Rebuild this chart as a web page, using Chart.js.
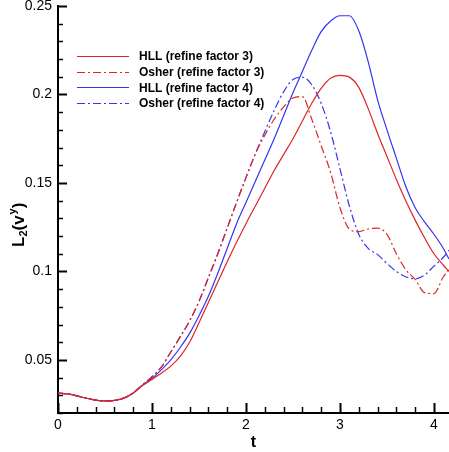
<!DOCTYPE html>
<html>
<head>
<meta charset="utf-8">
<script src="https://cdn.jsdelivr.net/npm/chart.js@4/dist/chart.umd.min.js"></script>
<style>
  html, body { margin: 0; padding: 0; background: #fff; }
  #wrap { width: 449px; height: 452px; }
</style>
</head>
<body>
<div id="wrap"><canvas id="l2-chart" width="449" height="452"></canvas></div>
<script>
// L2(v^y) error over time, HLL vs Osher, refine factor 3 and 4

const tValues = [0, 0.1, 0.2, 0.3, 0.4, 0.5, 0.6, 0.7, 0.8, 0.9,
  1.0, 1.1, 1.2, 1.3, 1.4, 1.5, 1.6, 1.7, 1.8, 1.9,
  2.0, 2.1, 2.2, 2.3, 2.4, 2.5, 2.6, 2.7, 2.8, 2.9,
  3.0, 3.1, 3.2, 3.3, 3.4, 3.5, 3.6, 3.7, 3.8, 3.9,
  4.0, 4.1, 4.16];

const hllFactor3 = [0.0312, 0.0308, 0.0297, 0.0284, 0.0273, 0.0268, 0.0271, 0.0284, 0.0312, 0.0355,
  0.0390, 0.0425, 0.0465, 0.0520, 0.0600, 0.0710, 0.0825, 0.0940, 0.1055, 0.1165,
  0.1270, 0.1370, 0.1470, 0.1570, 0.1660, 0.1750, 0.1850, 0.1950, 0.2035, 0.2092,
  0.2108, 0.2098, 0.2040, 0.1920, 0.1780, 0.1650, 0.1520, 0.1400, 0.1290, 0.1190,
  0.1100, 0.1035, 0.1000];

const osherFactor3 = [0.0312, 0.0308, 0.0297, 0.0284, 0.0273, 0.0268, 0.0271, 0.0284, 0.0314, 0.0360,
  0.0405, 0.0460, 0.0545, 0.0630, 0.0720, 0.0830, 0.0965, 0.1100, 0.1245, 0.1390,
  0.1530, 0.1665, 0.1770, 0.1860, 0.1930, 0.1980, 0.1988, 0.1860, 0.1710, 0.1560,
  0.1360, 0.1240, 0.1225, 0.1240, 0.1245, 0.1210, 0.1100, 0.1010, 0.0955, 0.0880,
  0.0875, 0.0970, 0.1010];

const hllFactor4 = [0.0312, 0.0308, 0.0297, 0.0284, 0.0273, 0.0268, 0.0271, 0.0284, 0.0313, 0.0358,
  0.0395, 0.0445, 0.0500, 0.0570, 0.0650, 0.0750, 0.0860, 0.0990, 0.1130, 0.1270,
  0.1390, 0.1510, 0.1630, 0.1750, 0.1880, 0.2010, 0.2130, 0.2250, 0.2355, 0.2415,
  0.2445, 0.2445, 0.2360, 0.2186, 0.1970, 0.1800, 0.1640, 0.1480, 0.1360, 0.1280,
  0.1210, 0.1130, 0.1070];

const osherFactor4 = [0.0312, 0.0308, 0.0297, 0.0284, 0.0273, 0.0268, 0.0271, 0.0284, 0.0314, 0.0360,
  0.0405, 0.0460, 0.0545, 0.0630, 0.0720, 0.0830, 0.0965, 0.1100, 0.1245, 0.1390,
  0.1530, 0.1665, 0.1790, 0.1910, 0.2015, 0.2085, 0.2098, 0.2055, 0.1950, 0.1790,
  0.1580, 0.1370, 0.1210, 0.1130, 0.1095, 0.1045, 0.1000, 0.0970, 0.0958, 0.0980,
  0.1030, 0.1080, 0.1120];

const seriesNames = ['HLL (refine factor 3)', 'Osher (refine factor 3)',
  'HLL (refine factor 4)', 'Osher (refine factor 4)'];

const xLabelValues = [0, 1, 2, 3, 4];
const yLabelValues = [0.05, 0.1, 0.15, 0.2, 0.25];

const RED = '#e02424';
const BLUE = '#3434f2';
const DASHDOT = [8, 3, 2, 3];

const near = (a, b) => Math.abs(a - b) < 1e-6;
const onStep = (v, step) => near(v / step, Math.round(v / step));
const labelFor = (list, v) => {
  const hit = list.find(l => near(l, v));
  return hit === undefined ? '' : String(hit);
};
const toPoints = arr => tValues.map((t, i) => ({ x: t, y: arr[i] }));

// tick marks pointing into the plot, long at labelled values
const inwardTicks = {
  id: 'inwardTicks',
  afterDraw(chart) {
    const { ctx, chartArea } = chart;
    const xs = chart.scales.x, ys = chart.scales.y;
    ctx.save();
    ctx.strokeStyle = '#000';
    xs.ticks.forEach(t => {
      if (!onStep(t.value, 0.2)) return;
      const major = labelFor(xLabelValues, t.value) !== '';
      const px = Math.round(xs.getPixelForValue(t.value)) + 0.5;
      ctx.lineWidth = major ? 2 : 1.5;
      ctx.beginPath();
      ctx.moveTo(px, chartArea.bottom);
      ctx.lineTo(px, chartArea.bottom - (major ? 10 : 6));
      ctx.stroke();
    });
    ys.ticks.forEach(t => {
      if (!onStep(t.value, 0.01)) return;
      const major = labelFor(yLabelValues, t.value) !== '';
      const py = Math.round(ys.getPixelForValue(t.value)) + 0.5;
      ctx.lineWidth = major ? 2 : 1.5;
      ctx.beginPath();
      ctx.moveTo(chartArea.left, py);
      ctx.lineTo(chartArea.left + (major ? 9 : 5), py);
      ctx.stroke();
    });
    ctx.restore();
  }
};

// y title with sub/superscript: L_2(v^y)
const yTitle = {
  id: 'yTitle',
  afterDraw(chart) {
    const ctx = chart.ctx;
    ctx.save();
    ctx.translate(24, 247);
    ctx.rotate(-Math.PI / 2);
    ctx.fillStyle = '#000';
    ctx.textBaseline = 'alphabetic';
    const big = 'bold 17px "Liberation Sans", Arial, sans-serif';
    const small = 'bold 11px "Liberation Sans", Arial, sans-serif';
    let x = 0;
    const put = (txt, font, dy) => {
      ctx.font = font;
      ctx.fillText(txt, x, dy);
      x += ctx.measureText(txt).width;
    };
    put('L', big, 0);
    put('2', small, 3);
    put('(v', big, 0);
    x += 1;
    put('y', small, -8);
    put(')', big, 0);
    ctx.restore();
  }
};

// legend box in upper left of the plot
const insideLegend = {
  id: 'insideLegend',
  afterDraw(chart) {
    const ctx = chart.ctx;
    ctx.save();
    ctx.font = 'bold 12px "Liberation Sans", Arial, sans-serif';
    ctx.textBaseline = 'middle';
    chart.data.datasets.forEach((ds, i) => {
      const y = 56 + i * 15.7;
      ctx.strokeStyle = ds.borderColor;
      ctx.lineWidth = ds.borderWidth;
      ctx.setLineDash(ds.borderDash || []);
      ctx.beginPath();
      ctx.moveTo(77, Math.round(y) + 0.5);
      ctx.lineTo(129, Math.round(y) + 0.5);
      ctx.stroke();
      ctx.setLineDash([]);
      ctx.fillStyle = '#000';
      ctx.fillText(ds.label, 139, y + 1);
    });
    ctx.restore();
  }
};

const whiteBg = {
  id: 'whiteBg',
  beforeDraw(chart) {
    const ctx = chart.ctx;
    ctx.save();
    ctx.fillStyle = '#fff';
    ctx.fillRect(0, 0, chart.width, chart.height);
    ctx.restore();
  }
};

const line = (label, arr, color, dash) => ({
  label,
  data: toPoints(arr),
  borderColor: color,
  borderWidth: 1.2,
  borderDash: dash,
  pointRadius: 0,
  fill: false,
  cubicInterpolationMode: 'monotone'
});

const tickFont = { family: '"Liberation Sans", Arial, sans-serif', size: 14 };

new Chart(document.getElementById('l2-chart'), {
  type: 'line',
  data: {
    datasets: [
      line(seriesNames[0], hllFactor3, RED, []),
      line(seriesNames[1], osherFactor3, RED, DASHDOT),
      line(seriesNames[2], hllFactor4, BLUE, []),
      line(seriesNames[3], osherFactor4, BLUE, DASHDOT)
    ]
  },
  options: {
    responsive: false,
    animation: false,
    layout: { padding: { top: 6, right: 0, left: 0, bottom: 0 } },
    plugins: {
      legend: { display: false },
      tooltip: { enabled: false }
    },
    scales: {
      x: {
        type: 'linear',
        min: 0,
        max: 4.16,
        afterFit: s => { s.height = 39; s.paddingLeft = 0; s.paddingRight = 0; },
        grid: { display: false, drawTicks: false },
        border: { display: true, color: '#000', width: 2 },
        ticks: {
          stepSize: 0.2,
          includeBounds: false,
          autoSkip: false,
          maxRotation: 0,
          padding: 4,
          color: '#000',
          font: tickFont,
          callback: v => labelFor(xLabelValues, v)
        },
        title: {
          display: true,
          text: 't',
          color: '#000',
          font: { family: '"Liberation Sans", Arial, sans-serif', size: 16, weight: 'bold' },
          padding: { top: 0, bottom: 0 }
        }
      },
      y: {
        min: 0.02,
        max: 0.25,
        afterFit: s => { s.width = 58; s.paddingTop = 0; s.paddingBottom = 0; },
        grid: { display: false, drawTicks: false },
        border: { display: true, color: '#000', width: 2 },
        ticks: {
          stepSize: 0.01,
          includeBounds: false,
          autoSkip: false,
          padding: 6,
          color: '#000',
          font: tickFont,
          callback: v => labelFor(yLabelValues, v)
        }
      }
    }
  },
  plugins: [whiteBg, inwardTicks, yTitle, insideLegend]
});
</script>
</body>
</html>
